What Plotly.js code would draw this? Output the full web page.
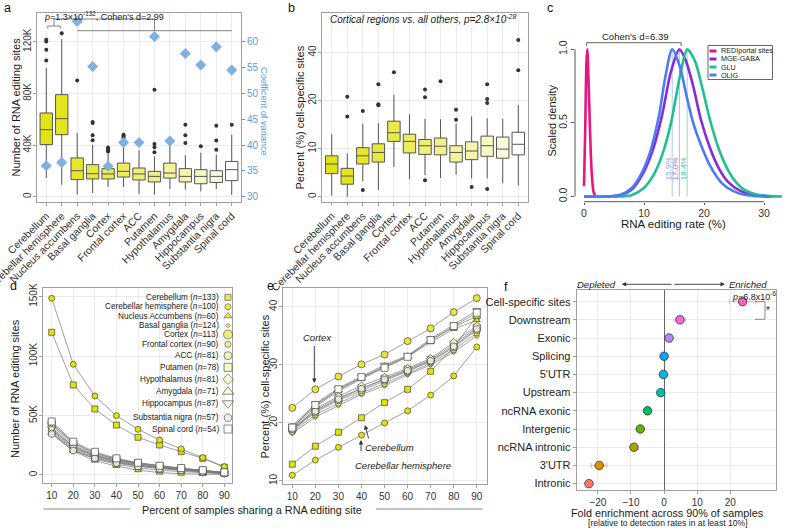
<!DOCTYPE html>
<html><head><meta charset="utf-8">
<script src="https://cdn.plot.ly/plotly-3.0.1.min.js"></script>
<style>html,body{margin:0;padding:0;background:#fff}#chart{width:790px;height:528px}</style>
</head><body><div id="chart"></div>
<script>
// ================= DATA =================
const regions = ['Cerebellum','Cerebellar hemisphere','Nucleus accumbens','Basal ganglia','Cortex','Frontal cortex','ACC','Putamen','Hypothalamus','Amygdala','Hippocampus','Substantia nigra','Spinal cord'];

// panel a: number of RNA editing sites (thousands)
const aQ1  = [40.3, 48.0, 13.2, 13.7, 13.7, 15.2, 12.9, 11.4, 14.4, 11.4, 10.0, 11.0, 12.4];
const aMed = [51.9, 60.4, 20.1, 17.8, 17.6, 19.6, 17.6, 15.7, 18.3, 15.7, 15.7, 15.7, 20.9];
const aQ3  = [64.8, 79.0, 30.0, 24.8, 21.7, 26.0, 22.2, 19.6, 26.0, 21.7, 20.9, 20.1, 27.3];
const aLo  = [14.5, 9.3, 1.5, 2.8, 7.5, 7.5, 2.1, 1.5, 6.0, 5.4, 4.1, 6.0, 1.5];
const aHi  = [99.6, 122.0, 49.3, 40.2, 33.5, 42.8, 36.0, 31.2, 41.5, 32.0, 34.0, 32.5, 48.0];
const aOutRegion = ['Cerebellum','Cerebellum','Cerebellum','Cerebellum','Cerebellar hemisphere','Nucleus accumbens','Basal ganglia','Basal ganglia','Basal ganglia','Basal ganglia','Cortex','Cortex','Cortex','Cortex','Frontal cortex','Frontal cortex','Frontal cortex','Frontal cortex','Putamen','Putamen','Putamen','Putamen','Amygdala','Amygdala','Amygdala','Hippocampus','Substantia nigra','Substantia nigra','Substantia nigra','Spinal cord'];
const aOutValue  = [121.5, 120.2, 113.8, 105.5, 126.5, 90.0, 57.8, 57.0, 47.5, 43.6, 35.0, 36.0, 37.0, 38.0, 44.7, 46.0, 47.2, 48.0, 82.8, 40.8, 38.2, 34.3, 55.7, 47.5, 41.5, 39.0, 55.0, 43.4, 36.4, 55.7];
const aCV = [36.0, 36.6, 63.9, 55.2, 35.9, 40.5, 40.5, 61.0, 40.8, 57.7, 55.5, 59.0, 54.5];
const aTickVals = [0, 40, 80, 120];
const aTickText = ['0', '40K', '80K', '120K'];
const cvTicks = [30, 35, 40, 45, 50, 55, 60];

// panel b: percent cell-specific sites
const bQ1  = [4.8, 2.6, 6.8, 7.2, 11.5, 9.1, 8.8, 8.7, 7.2, 7.7, 8.4, 8.0, 8.7];
const bMed = [6.8, 4.3, 8.5, 9.2, 13.3, 11.5, 10.6, 10.5, 9.2, 9.5, 10.6, 9.9, 10.9];
const bQ3  = [8.5, 5.9, 10.2, 11.0, 15.7, 13.0, 11.9, 12.2, 10.6, 11.4, 12.6, 12.4, 13.4];
const bLo  = [0.2, 0.0, 3.2, 1.4, 6.2, 3.6, 4.5, 3.9, 4.6, 3.8, 3.8, 2.8, 2.3];
const bHi  = [13.0, 9.0, 15.2, 15.3, 21.2, 17.1, 16.2, 16.1, 15.2, 16.7, 16.3, 16.2, 19.1];
const bOutRegion = ['Cerebellar hemisphere','Cerebellar hemisphere','Nucleus accumbens','Nucleus accumbens','Basal ganglia','Basal ganglia','Basal ganglia','Cortex','ACC','ACC','ACC','Putamen','Hypothalamus','Hypothalamus','Amygdala','Hippocampus','Hippocampus','Hippocampus','Hippocampus','Spinal cord','Spinal cord'];
const bOutValue  = [20.8, 16.7, 17.8, 1.4, 23.4, 19.2, 19.0, 25.9, 22.3, 20.7, 3.4, 24.0, 18.1, 16.0, 2.0, 23.4, 20.3, 19.5, 1.6, 26.3, 32.6];
const bTickVals = [0, 10, 20, 30];
const bTickText = ['0', '10', '20', '40'];

// panel c: scaled density of RNA editing rate
const cRedX  = [0, 0.2, 0.4, 0.55, 0.75, 1.0, 1.3, 1.6, 1.9];
const cRedY  = [0.07, 0.45, 0.9, 1.0, 0.8, 0.45, 0.15, 0.03, 0];
const cMgeX  = [0, 4, 6, 8, 10, 11.5, 13, 14.5, 15.9, 17, 18.2, 19.5, 21, 22.5, 24, 26, 28, 30, 31.5];
const cMgeY  = [0, 0, 0.01, 0.05, 0.17, 0.32, 0.55, 0.85, 1.0, 0.92, 0.75, 0.52, 0.33, 0.19, 0.1, 0.04, 0.012, 0.003, 0];
const cGluX  = [0, 6, 8, 10, 11.5, 13, 14.5, 16, 17.2, 18.5, 19.7, 21, 22.5, 24, 25.5, 27, 29, 31, 33];
const cGluY  = [0, 0, 0.01, 0.06, 0.14, 0.28, 0.5, 0.82, 1.0, 0.92, 0.74, 0.52, 0.32, 0.18, 0.09, 0.04, 0.012, 0.003, 0];
const cOligX = [0, 4, 6, 8, 9.5, 11, 12.5, 13.5, 14.7, 16, 17, 18.2, 19.5, 21, 23, 25, 27, 29, 31];
const cOligY = [0, 0, 0.01, 0.06, 0.15, 0.3, 0.55, 0.8, 1.0, 0.88, 0.7, 0.5, 0.35, 0.21, 0.09, 0.035, 0.01, 0.002, 0];
const cNames = ['REDIportal sites', 'MGE-GABA', 'GLU', 'OLIG'];
const cPeakX = [14.7, 15.9, 17.2];          // OLIG, MGE-GABA, GLU
const cMeanLabel = ['15.9%', '17.0%', '18.4%'];
const cCohen = "Cohen's d=6.39";

// panels d & e
const sharePct = [10, 20, 30, 40, 50, 60, 70, 80, 90];
const dNames = ['Cerebellum','Cerebellar hemisphere','Nucleus Accumbens','Basal ganglia','Cortex','Frontal cortex','ACC','Putamen','Hypothalamus','Amygdala','Hippocampus','Substantia nigra','Spinal cord'];
const dSampleN = [133, 100, 60, 124, 113, 90, 81, 78, 81, 71, 87, 57, 54];
// d: number of RNA editing sites (thousands)
const dCerebellum  = [120, 75.7, 55.5, 42, 31.7, 25.2, 19.6, 14.0, 6.5];
const dCerHemi     = [148.6, 93.1, 66.4, 49.9, 38.4, 29.4, 21.9, 14.6, 7.0];
const dNucAcc      = [35, 20, 12, 7.5, 4, 2, 1, 0.7, 0.4];
const dBasalG      = [38, 23, 15.5, 11, 8, 6, 4.5, 3, 1.5];
const dCortex      = [40, 24, 16.5, 12, 9, 6.8, 5, 3.5, 1.8];
const dFrontal     = [42, 25, 17, 12.5, 9.5, 7, 5.2, 3.6, 1.9];
const dACC         = [37, 22, 14.5, 10.5, 7.5, 5.5, 4, 2.6, 1.3];
const dPutamen     = [43, 26.5, 18, 13, 9.8, 7.3, 5.4, 3.7, 2.0];
const dHypoth      = [44, 27, 18.5, 13.5, 10, 7.5, 5.5, 3.8, 2.1];
const dAmygdala    = [36, 21, 13.5, 9, 6, 4, 2.8, 1.8, 1.0];
const dHippo       = [39, 23.5, 16, 11.5, 8.5, 6.2, 4.6, 3.1, 1.6];
const dSubNigra    = [34.5, 20.5, 14, 10, 7.2, 5.2, 3.8, 2.5, 1.2];
const dSpinal      = [45, 28, 19.5, 14, 10.3, 7.8, 5.8, 4.0, 2.2];
const dTickVals = [0, 50, 100, 150];
const dTickText = ['0', '50K', '100K', '150K'];
// e: percent cell-specific sites
const eCerebellum  = [12.9, 16.0, 18.4, 20.9, 23.5, 25.8, 28.9, 33.0, 38.4];
const eCerHemi     = [11.0, 13.6, 15.8, 17.9, 20.0, 22.1, 24.8, 28.1, 33.1];
const eNucAcc      = [19.0, 22.8, 25.5, 27.6, 29.6, 31.4, 33.9, 36.2, 37.7];
const eBasalG      = [18.2, 21.0, 23.0, 24.9, 26.4, 28.3, 30.0, 32.2, 35.0];
const eCortex      = [22.6, 25.8, 28.0, 30.1, 31.8, 34.1, 36.3, 39.1, 41.5];
const eFrontal     = [18.5, 21.4, 23.4, 25.2, 26.8, 28.6, 30.3, 32.6, 35.5];
const eACC         = [18.8, 21.8, 23.9, 25.6, 27.3, 28.9, 30.6, 33.0, 36.0];
const ePutamen     = [19.0, 22.2, 24.3, 26.0, 27.6, 29.2, 30.9, 33.5, 36.4];
const eHypoth      = [18.6, 22.4, 24.6, 26.4, 27.9, 29.4, 31.1, 33.9, 36.7];
const eAmygdala    = [19.3, 23.0, 25.7, 27.8, 29.8, 31.5, 34.2, 36.5, 38.4];
const eHippo       = [19.5, 23.3, 26.0, 28.0, 30.0, 31.6, 34.5, 36.9, 39.4];
const eSubNigra    = [18.9, 22.0, 24.1, 25.9, 27.5, 29.0, 30.7, 33.2, 36.2];
const eSpinal      = [19.2, 23.1, 25.8, 27.9, 29.5, 31.4, 34.3, 36.7, 39.0];

// panel f: fold enrichment
const fCats = ['Cell-specific sites','Downstream','Exonic','Splicing',"5'UTR",'Upstream','ncRNA exonic','Intergenic','ncRNA intronic',"3'UTR",'Intronic'];
const fVals = [23.7, 4.8, 1.5, 0.0, -0.2, -1.0, -5.0, -7.2, -9.1, -19.6, -22.7];
const fErrMinus = [4.0, 1.8, 0, 0, 0, 0, 0, 0, 0, 2.4, 0];
const fErrPlus  = [4.0, 1.7, 0, 0, 0, 0, 0, 0, 0, 2.3, 0];

// ================= STYLE =================
const FONT = 'Liberation Sans, Arial, Helvetica, sans-serif';
const GRID = '#ebebeb', FRAME = '#a0a0a0', TXT = '#333333';
const CVBLUE = '#5b9bd5';
const boxFill = ['#e3e314','#e5e51e','#e6e62a','#e8e83a','#eaea4a','#ecec5e','#eeee72','#f0f086','#f3f39a','#f5f5ae','#f8f8c4','#fbfbdc','#ffffff'];
const cColors = ['#e8147f', '#8a2ad6', '#1fbf90', '#4a7cf5'];
const cPeakLine = ['#b0c4f7', '#cfa9ef', '#96dcc6'];
const cPeakText = ['#7f9ef2', '#a56ddf', '#3cc49a'];
const dSymbol = ['square','circle','triangle-up','diamond','circle','circle','circle','square','diamond','triangle-up','triangle-down','octagon','square'];
const dFill = ['#e3e300','#e3e300','#e3e300','#e6e62e','#e6e63c','#ebeb6a','#f1f196','#f4f4b2','#f7f7c6','#f7f7cc','#fafae0','#e6e6da','#ffffff'];
const dPlotSize = [6, 6, 6, 4, 7, 6, 7, 7, 6, 7, 7, 7, 7];
const dLegSize  = [6, 6, 7, 3.5, 9, 6, 8, 8, 8, 10, 10, 8, 8];
const fColors = ['#FF63B6','#EF67EB','#B385FF','#00A6FF','#00BADE','#00C1A7','#00BD5C','#64B200','#AEA200','#DB8E00','#F8766D'];
const fErrColors = ['#ffb0d8','#f6b0f4','#d9c2ff','#80d2ff','#80dcef','#80e0d3','#80deae','#b1d880','#d6d080','#f0c77a','#fbbab6'];

const W = 790, H = 528;
const X = px => px / W;
const Y = py => 1 - py / H;
const dom = (a, b) => [a / W, b / W];
const vdom = (top, bottom) => [1 - bottom / H, 1 - top / H];

const dValues = [dCerebellum,dCerHemi,dNucAcc,dBasalG,dCortex,dFrontal,dACC,dPutamen,dHypoth,dAmygdala,dHippo,dSubNigra,dSpinal];
const eValues = [eCerebellum,eCerHemi,eNucAcc,eBasalG,eCortex,eFrontal,eACC,ePutamen,eHypoth,eAmygdala,eHippo,eSubNigra,eSpinal];

// ================= TRACES =================
const traces = [];
function boxes(q1, med, q3, lo, hi, xa, ya) {
  regions.forEach((r, i) => traces.push({
    type: 'box', x: [r], q1: [q1[i]], median: [med[i]], q3: [q3[i]],
    lowerfence: [lo[i]], upperfence: [hi[i]], xaxis: xa, yaxis: ya,
    fillcolor: boxFill[i], line: {color: '#555555', width: 1}, whiskerwidth: 0,
    width: 0.8, boxpoints: false, showlegend: false, hoverinfo: 'skip'
  }));
}
boxes(aQ1, aMed, aQ3, aLo, aHi, 'x', 'y');
traces.push({type: 'scatter', mode: 'markers', x: aOutRegion, y: aOutValue, xaxis: 'x', yaxis: 'y',
  marker: {size: 4, color: '#333'}, hoverinfo: 'skip', showlegend: false});
traces.push({type: 'scatter', mode: 'markers', x: regions, y: aCV, xaxis: 'x', yaxis: 'y2',
  marker: {symbol: 'diamond', size: 8.5, color: '#7eb1df'}, hoverinfo: 'skip', showlegend: false});

boxes(bQ1, bMed, bQ3, bLo, bHi, 'x2', 'y3');
traces.push({type: 'scatter', mode: 'markers', x: bOutRegion, y: bOutValue, xaxis: 'x2', yaxis: 'y3',
  marker: {size: 4, color: '#333'}, hoverinfo: 'skip', showlegend: false});

[[cRedX, cRedY], [cMgeX, cMgeY], [cGluX, cGluY], [cOligX, cOligY]].forEach((xy, i) => traces.push({
  type: 'scatter', mode: 'lines', x: xy[0], y: xy[1], xaxis: 'x3', yaxis: 'y4',
  line: {color: cColors[i], width: 2.6, shape: 'spline', smoothing: 0.8}, name: cNames[i],
  hoverinfo: 'skip', showlegend: false
}));

function series(vals, xa, ya) {
  vals.forEach((v, i) => traces.push({
    type: 'scatter', mode: 'lines+markers', x: sharePct, y: v, xaxis: xa, yaxis: ya,
    line: {color: '#777', width: 0.7},
    marker: {symbol: dSymbol[i], size: dPlotSize[i], color: dFill[i], line: {color: '#444', width: 0.7}},
    hoverinfo: 'skip', showlegend: false
  }));
}
series(dValues, 'x4', 'y5');
series(eValues, 'x5', 'y6');

fCats.forEach((c, i) => traces.push({
  type: 'scatter', mode: 'markers', x: [fVals[i]], y: [c], xaxis: 'x6', yaxis: 'y7',
  error_x: {type: 'data', symmetric: false, array: [fErrPlus[i]], arrayminus: [fErrMinus[i]],
            color: fErrColors[i], thickness: 1.2, width: 2.5, visible: fErrPlus[i] > 0},
  marker: {size: 8.5, color: fColors[i], line: {color: '#333', width: 0.8}},
  hoverinfo: 'skip', showlegend: false
}));

// legend keys for panel d (drawn on a full-page decoration axis)
const dLegX = 228;
const dLegRows = [297.3, 306.7, 316, 325.5, 334.5, 344.3, 355.7, 367.3, 379.3, 391.7, 403.3, 417.7, 429];
traces.push({type: 'scatter', mode: 'markers', x: dLegRows.map(() => dLegX), y: dLegRows,
  xaxis: 'x7', yaxis: 'y8', cliponaxis: false,
  marker: {symbol: dSymbol, size: dLegSize, color: dFill, line: {color: '#333', width: 0.8}},
  hoverinfo: 'skip', showlegend: false});

// ================= AXES =================
const tf = (s, c) => ({family: FONT, size: s, color: c || TXT});
function fa(extra) {
  return Object.assign({showline: true, mirror: true, linecolor: FRAME, linewidth: 1,
    showgrid: true, gridcolor: GRID, gridwidth: 1, zeroline: false, ticks: 'outside',
    ticklen: 3, tickcolor: FRAME, tickfont: tf(10), automargin: false, fixedrange: true}, extra);
}
const layout = {
  width: W, height: H, margin: {l: 0, r: 0, t: 0, b: 0},
  paper_bgcolor: '#ffffff', plot_bgcolor: 'rgba(0,0,0,0)',
  showlegend: false, boxmode: 'overlay', font: {family: FONT, size: 10, color: TXT},
  // a
  xaxis: fa({domain: dom(37, 241), anchor: 'y', type: 'category', categoryarray: regions, categoryorder: 'array',
    range: [-0.6, 12.6], tickangle: -45, tickfont: tf(10.5)}),
  yaxis: fa({domain: vdom(13.3, 201.7), anchor: 'x', range: [-3.9, 142], tickvals: aTickVals, ticktext: aTickText, tickangle: -90, ticklabelstandoff: -2}),
  yaxis2: {overlaying: 'y', side: 'right', anchor: 'x', range: [30 - 3.9 / 4, 30 + 142 / 4], tickvals: cvTicks,
    showgrid: false, zeroline: false, showline: false, ticks: 'outside', ticklen: 3, tickcolor: CVBLUE,
    tickfont: tf(10, CVBLUE), automargin: false, fixedrange: true},
  // b
  xaxis2: fa({domain: dom(322.4, 527.6), anchor: 'y3', type: 'category', categoryarray: regions, categoryorder: 'array',
    range: [-0.6, 12.6], tickangle: -45, tickfont: tf(10.5)}),
  yaxis3: fa({domain: vdom(13, 201.7), anchor: 'x2', range: [-1.04, 38.2], tickvals: bTickVals, ticktext: bTickText, tickangle: -90, ticklabelstandoff: -2}),
  // c
  xaxis3: {domain: dom(575, 782), anchor: 'y4', range: [-1.5, 33], tickvals: [0, 10, 20, 30], showline: false,
    showgrid: false, zeroline: false, ticks: 'outside', ticklen: 2, tickcolor: '#555', tickfont: tf(10.5), automargin: false, fixedrange: true},
  yaxis4: {domain: vdom(13, 201.7), anchor: 'x3', range: [-0.035, 1.247], tickvals: [0, 0.5, 1], ticktext: ['0.0', '0.5', '1.0'],
    tickangle: -90, showline: false, showgrid: false, zeroline: false, ticks: 'outside', ticklen: 3, tickcolor: '#555',
    tickfont: tf(10.5), automargin: false, fixedrange: true},
  // d
  xaxis4: fa({domain: dom(42.7, 232.3), anchor: 'y5', range: [5.83, 93.7], tickvals: sharePct}),
  yaxis5: fa({domain: vdom(288.3, 482.7), anchor: 'x4', range: [-6.5, 157], tickvals: dTickVals, ticktext: dTickText, tickangle: -90, ticklabelstandoff: -2}),
  // e
  xaxis5: fa({domain: dom(283.3, 486.7), anchor: 'y6', range: [6.1, 94.3], tickvals: sharePct}),
  yaxis6: fa({domain: vdom(288.3, 484.3), anchor: 'x5', range: [9.43, 43.2], tickvals: [10, 20, 30, 40], tickangle: -90, ticklabelstandoff: -2}),
  // f
  xaxis6: fa({domain: dom(576.7, 776), anchor: 'y7', range: [-26.4, 33.8], tickvals: [-20, -10, 0, 10, 20],
    zeroline: true, zerolinecolor: '#666', zerolinewidth: 1, tickfont: tf(10)}),
  yaxis7: fa({domain: vdom(290, 490), anchor: 'x6', type: 'category', categoryarray: fCats, categoryorder: 'array',
    range: [10.35, -0.64], tickfont: tf(11, '#222')}),
  // decoration layer
  xaxis7: {domain: [0, 1], range: [0, W], visible: false, anchor: 'y8', fixedrange: true},
  yaxis8: {domain: [0, 1], range: [H, 0], visible: false, anchor: 'x7', fixedrange: true}
};

// ================= SHAPES =================
const LC = '#808080';
const seg = (x0, y0, x1, y1, col, w) => ({type: 'line', xref: 'paper', yref: 'paper', x0: X(x0), y0: Y(y0), x1: X(x1), y1: Y(y1), line: {color: col || LC, width: w || 1}});
const shapes = [];
// a: comparison bracket (category index coordinates)
const aBr = (x0, x1, y0, y1) => ({type: 'line', xref: 'x', yref: 'paper', x0: x0, x1: x1, y0: Y(y0), y1: Y(y1), line: {color: LC, width: 1}});
shapes.push(aBr(0.5, 7, 19, 19), aBr(0.5, 0.5, 19, 26), aBr(7, 7, 19, 30.7),
            aBr(0.1, 0.9, 26, 26), aBr(0.1, 0.1, 26, 28.5), aBr(0.9, 0.9, 26, 28.5),
            aBr(2, 12, 30.7, 30.7));
// c: axis lines
shapes.push({type: 'line', xref: 'x3', yref: 'paper', x0: 0, x1: 30, y0: Y(201.7), y1: Y(201.7), line: {color: '#555', width: 1}});
shapes.push({type: 'line', xref: 'paper', yref: 'y4', x0: X(575), x1: X(575), y0: 0, y1: 1, line: {color: '#555', width: 1}});
// c: Cohen's d bracket
shapes.push({type: 'line', xref: 'x3', yref: 'paper', x0: 0.45, x1: 16.2, y0: Y(42.7), y1: Y(42.7), line: {color: '#666', width: 1}});
shapes.push({type: 'line', xref: 'x3', yref: 'paper', x0: 0.45, x1: 0.45, y0: Y(42.7), y1: Y(46), line: {color: '#666', width: 1}});
shapes.push({type: 'line', xref: 'x3', yref: 'paper', x0: 16.2, x1: 16.2, y0: Y(42.7), y1: Y(46), line: {color: '#666', width: 1}});
// c: peak lines
cPeakX.forEach((p, i) => shapes.push({type: 'line', xref: 'x3', yref: 'y4', x0: p, x1: p, y0: 0, y1: 1, line: {color: cPeakLine[i], width: 1}, layer: 'below'}));
// c: legend box and keys
shapes.push({type: 'rect', xref: 'paper', yref: 'paper', x0: X(708), x1: X(772.5), y0: Y(45.5), y1: Y(79.5), line: {color: '#666', width: 1}, fillcolor: 'rgba(255,255,255,0)'});
const cLegRows = [51, 59, 67, 75];
cLegRows.forEach((r, i) => shapes.push(seg(709.5, r, 716.5, r, cColors[i], 3)));
// d/e shared axis title rules
shapes.push(seg(43.3, 509, 130, 509, '#888', 1), seg(376, 509, 482.7, 509, '#888', 1));
// f: p-value bracket
shapes.push(seg(755, 301.7, 765, 301.7, '#888'), seg(765, 301.7, 765, 319.3, '#888'), seg(765, 319.3, 755, 319.3, '#888'));
layout.shapes = shapes;

// ================= ANNOTATIONS =================
const annotations = [];
function txt(xp, yp, text, size, opt) {
  annotations.push(Object.assign({xref: 'paper', yref: 'paper', x: X(xp), y: Y(yp), text: text, showarrow: false,
    xanchor: 'center', yanchor: 'middle', font: {family: FONT, size: size, color: '#1a1a1a'}}, opt || {}));
}
// panel letters
[['a', 7, 8], ['b', 291.7, 8], ['c', 550, 8], ['d', 13.3, 286], ['e', 270, 286], ['f', 506, 287]].forEach(l => txt(l[1], l[2], l[0], 12.5, {font: {family: FONT, size: 12.5, color: '#111'}}));
// a
txt(103.5, 15.8, '<i>p</i>=1.3×10<sup>-132</sup>, Cohen\'s d=2.99', 9);
txt(15, 107.5, 'Number of RNA editing sites', 11, {textangle: -90});
txt(264, 111, 'Coefficent of variance', 9.2, {textangle: 90, font: {family: FONT, size: 9.2, color: CVBLUE}});
// b
txt(327.5, 19, '<i>Cortical regions vs. all others, p=2.8×10<sup>-28</sup></i>', 10, {xanchor: 'left'});
txt(299.5, 118, 'Percent (%) cell-specific sites', 11, {textangle: -90});
// c
txt(635, 36.5, cCohen, 9.5);
txt(551.5, 121, 'Scaled density', 11, {textangle: -90});
txt(673.5, 224, 'RNA editing rate (%)', 11.5);
cPeakX.forEach((p, i) => annotations.push({xref: 'x3', yref: 'y4', x: p - 0.6, y: 0.19, text: cMeanLabel[i], showarrow: false,
  textangle: -90, font: {family: FONT, size: 8, color: cPeakText[i]}}));
cLegRows.forEach((r, i) => txt(719, r, cNames[i], 7.2, {xanchor: 'left'}));
// d
dLegRows.forEach((r, i) => txt(221, r, dNames[i] + ' (<i>n</i>=' + dSampleN[i] + ')', 8.2, {xanchor: 'right'}));
txt(15, 389, 'Number of RNA editing sites', 11, {textangle: -90});
// e
txt(264.5, 387, 'Percent (%) cell-specific sites', 11, {textangle: -90});
txt(317, 337.5, '<i>Cortex</i>', 9.5);
txt(389, 447.5, '<i>Cerebellum</i>', 9.5);
txt(403, 465, '<i>Cerebellar hemisphere</i>', 9.5);
function arrow(hx, hy, tx, ty) {
  annotations.push({xref: 'paper', yref: 'paper', x: X(hx), y: Y(hy), ax: tx - hx, ay: ty - hy, text: '',
    showarrow: true, arrowhead: 2, arrowsize: 1, arrowwidth: 0.9, arrowcolor: '#333'});
}
arrow(314.3, 383, 314.3, 344.5);
arrow(365, 425, 369, 440);
arrow(361, 440, 361, 452.5);
txt(252, 510, 'Percent of samples sharing a RNA editing site', 10.8);
// f
txt(667.5, 512.5, 'Fold enrichment across 90% of samples', 10.8);
txt(667.5, 523, '[relative to detection rates in at least 10%]', 8.6);
txt(596, 284.3, '<i>Depleted</i>', 9.5);
txt(747.7, 284.3, '<i>Enriched</i>', 9.5);
arrow(621.7, 284.3, 673, 284.3);
arrow(725, 284.3, 673, 284.3);
txt(754, 295.7, '<i>p</i>=6.8x10<sup>-6</sup>', 9);
txt(767.5, 310.5, '*', 10);
layout.annotations = annotations;

Plotly.newPlot('chart', traces, layout, {staticPlot: true, displayModeBar: false});
</script>
</body></html>
